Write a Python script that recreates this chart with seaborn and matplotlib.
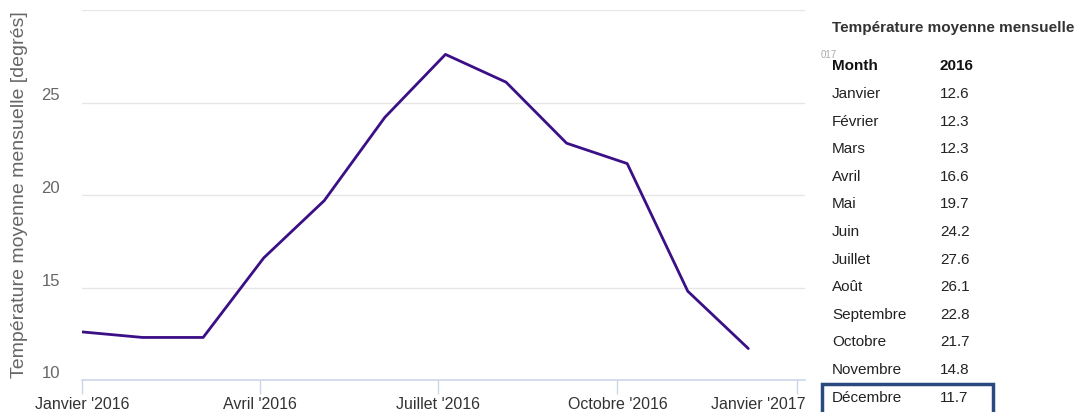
import pandas as pd
import seaborn as sns
import matplotlib.pyplot as plt
from matplotlib.patches import Rectangle
from matplotlib.transforms import ScaledTranslation

# data
month_names = ["Janvier", "Février", "Mars", "Avril", "Mai", "Juin", "Juillet",
               "Août", "Septembre", "Octobre", "Novembre", "Décembre"]
dates = ["2016-01-01", "2016-02-01", "2016-03-03", "2016-04-03", "2016-05-04",
         "2016-06-04", "2016-07-05", "2016-08-05", "2016-09-05", "2016-10-06",
         "2016-11-06", "2016-12-07"]
temps = [12.6, 12.3, 12.3, 16.6, 19.7, 24.2, 27.6, 26.1, 22.8, 21.7, 14.8, 11.7]
tick_dates = ["2016-01-01", "2016-04-01", "2016-07-01", "2016-10-01", "2017-01-01"]
tick_labels = ["Janvier '2016", "Avril '2016", "Juillet '2016", "Octobre '2016", "Janvier '2017"]
y_ticks = [10, 15, 20, 25, 30]

df = pd.DataFrame({"date": pd.to_datetime(dates), "temp": temps, "mois": month_names})

sns.set_style("white")
plt.rcParams['font.family'] = ['Liberation Sans', 'DejaVu Sans']

fig = plt.figure(figsize=(10.81, 4.12), dpi=100)
ax = fig.add_axes([82 / 1081, 1 - 380 / 412, (805 - 82) / 1081, 370 / 412])

sns.lineplot(data=df, x="date", y="temp", color="#3b0f86", linewidth=2.0, ax=ax)

ax.set_xlim(pd.Timestamp("2016-01-01"), pd.Timestamp("2017-01-05"))
ax.set_ylim(10, 30)
ax.set_yticks(y_ticks)
ax.set_yticklabels(["10", "15", "20", "25", ""])
ax.set_xticks(pd.to_datetime(tick_dates))
ax.set_xticklabels(tick_labels)
ax.yaxis.grid(True, color="#e6e6e6", linewidth=1)
ax.set_axisbelow(True)
for s in ["top", "right", "left"]:
    ax.spines[s].set_visible(False)
ax.spines["bottom"].set_color("#ccd6eb")
ax.spines["bottom"].set_linewidth(1.2)
ax.tick_params(axis="x", direction="out", length=10, color="#ccd6eb", width=1,
               labelsize=11.5, labelcolor="#333333", pad=2, bottom=True)
ax.tick_params(axis="y", length=0, labelsize=12, labelcolor="#666666", pad=16)
# highcharts-like: y labels sit a bit above the grid lines
shift = ScaledTranslation(0, 8 / 100, fig.dpi_scale_trans)
for lab in ax.get_yticklabels():
    lab.set_transform(lab.get_transform() + shift)
# last x label is pushed back inside the plot
last = ax.get_xticklabels()[-1]
last.set_transform(last.get_transform() + ScaledTranslation(-39 / 100, 0, fig.dpi_scale_trans))
ax.set_xlabel("")
ax.set_ylabel("Température moyenne mensuelle [degrés]", fontsize=14, color="#666666")
ax.yaxis.set_label_coords(-54 / 723, 0.5)

# data table on the right
tfam = ['Liberation Sans', 'DejaVu Sans']
fig.text(832 / 1081, 1 - 28 / 412, "Température moyenne mensuelle", fontsize=11,
         color="#333333", family=tfam, fontweight="bold", va="center", ha="left")
fig.text(821 / 1081, 1 - 55 / 412, "017", fontsize=7, color="#aaaaaa",
         family=tfam, va="center")
fig.text(832 / 1081, 1 - 66 / 412, "Month", fontsize=11, color="#111111",
         family=tfam, fontweight="bold", va="center")
fig.text(940 / 1081, 1 - 66 / 412, "2016", fontsize=11, color="#111111",
         family=tfam, fontweight="bold", va="center")
for i, (m, t) in enumerate(zip(month_names, temps)):
    y = 94 + i * 27.6
    fig.text(832 / 1081, 1 - y / 412, m, fontsize=11, color="#222222",
             family=tfam, va="center")
    fig.text(940 / 1081, 1 - y / 412, f"{t}", fontsize=11, color="#222222",
             family=tfam, va="center")

fig.patches.append(Rectangle((822 / 1081, 1 - 414 / 412), 171 / 1081, 30 / 412,
                             transform=fig.transFigure, fill=False,
                             edgecolor="#2a4a7f", linewidth=2.5))

fig.savefig("out.png", dpi=100)
